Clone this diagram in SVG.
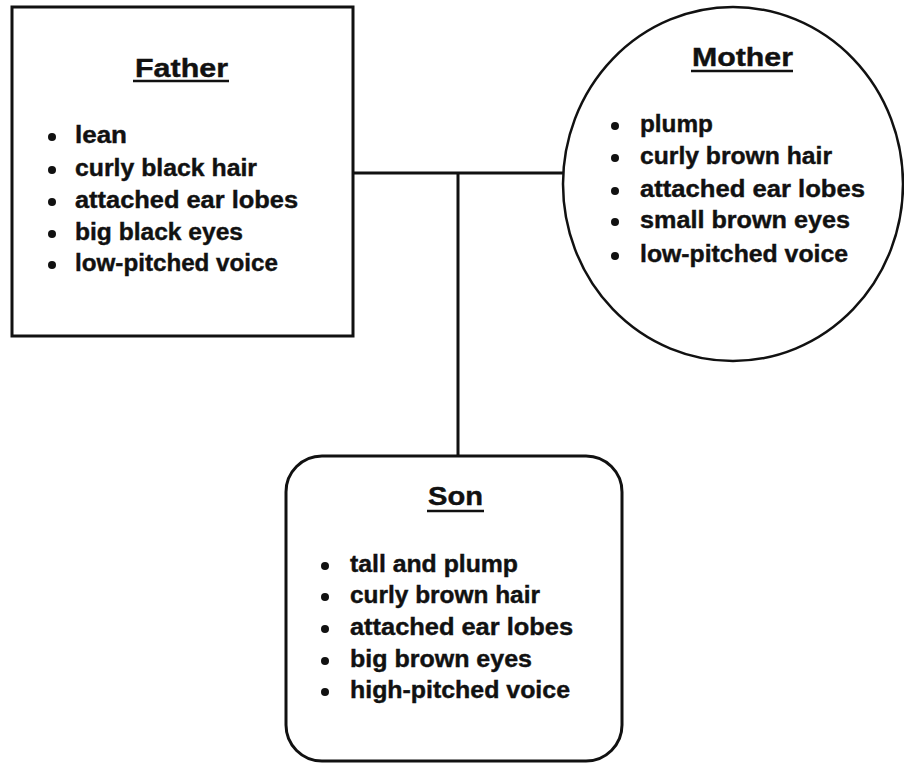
<svg xmlns="http://www.w3.org/2000/svg" width="904" height="763" viewBox="0 0 904 763">
<style>
.shape{fill:#fff;stroke:#111;stroke-width:3}
.conn{stroke:#111;stroke-width:3;fill:none}
.title{font-family:"Liberation Sans",Arial,sans-serif;font-weight:bold;font-size:25px;fill:#111;stroke:#111;stroke-width:0.4}
.item{font-family:"Liberation Sans",Arial,sans-serif;font-weight:bold;font-size:23px;fill:#111;stroke:#111;stroke-width:0.4}
.ul{stroke:#111;stroke-width:2.5}
.dot{fill:#111}
</style>
<rect width="904" height="763" fill="#fff"/>
<g id="connectors">
<line class="conn" x1="353" y1="173" x2="564" y2="173"/>
<line class="conn" x1="458" y1="173" x2="458" y2="456"/>
</g>
<g id="father">
<rect class="shape" x="12" y="7" width="341" height="329"/>
<text class="title" x="135" y="77" textLength="93" lengthAdjust="spacingAndGlyphs">Father</text>
<line class="ul" x1="133" y1="81" x2="229" y2="81"/>
<circle class="dot" cx="52" cy="137" r="4"/>
<circle class="dot" cx="52" cy="170" r="4"/>
<circle class="dot" cx="52" cy="202" r="4"/>
<circle class="dot" cx="52" cy="234" r="4"/>
<circle class="dot" cx="52" cy="265" r="4"/>
<text class="item" x="75" y="143" textLength="52" lengthAdjust="spacingAndGlyphs">lean</text>
<text class="item" x="75" y="176" textLength="182" lengthAdjust="spacingAndGlyphs">curly black hair</text>
<text class="item" x="75" y="208" textLength="223" lengthAdjust="spacingAndGlyphs">attached ear lobes</text>
<text class="item" x="75" y="240" textLength="168" lengthAdjust="spacingAndGlyphs">big black eyes</text>
<text class="item" x="75" y="271" textLength="203" lengthAdjust="spacingAndGlyphs">low-pitched voice</text>
</g>
<g id="mother">
<ellipse class="shape" cx="733" cy="184" rx="170" ry="177" style="stroke-width:2.5"/>
<text class="title" x="692" y="66" textLength="101" lengthAdjust="spacingAndGlyphs">Mother</text>
<line class="ul" x1="691" y1="71" x2="793" y2="71"/>
<circle class="dot" cx="615" cy="126" r="4"/>
<circle class="dot" cx="615" cy="158" r="4"/>
<circle class="dot" cx="615" cy="191" r="4"/>
<circle class="dot" cx="615" cy="222" r="4"/>
<circle class="dot" cx="615" cy="256" r="4"/>
<text class="item" x="640" y="132" textLength="73" lengthAdjust="spacingAndGlyphs">plump</text>
<text class="item" x="640" y="164" textLength="192" lengthAdjust="spacingAndGlyphs">curly brown hair</text>
<text class="item" x="640" y="197" textLength="225" lengthAdjust="spacingAndGlyphs">attached ear lobes</text>
<text class="item" x="640" y="228" textLength="210" lengthAdjust="spacingAndGlyphs">small brown eyes</text>
<text class="item" x="640" y="262" textLength="208" lengthAdjust="spacingAndGlyphs">low-pitched voice</text>
</g>
<g id="son">
<rect class="shape" x="286" y="456" width="336" height="305" rx="36" ry="36"/>
<text class="title" x="428" y="505" textLength="55" lengthAdjust="spacingAndGlyphs">Son</text>
<line class="ul" x1="427" y1="511" x2="484" y2="511"/>
<circle class="dot" cx="325" cy="566" r="4"/>
<circle class="dot" cx="325" cy="597" r="4"/>
<circle class="dot" cx="325" cy="629" r="4"/>
<circle class="dot" cx="325" cy="661" r="4"/>
<circle class="dot" cx="325" cy="692" r="4"/>
<text class="item" x="350" y="572" textLength="168" lengthAdjust="spacingAndGlyphs">tall and plump</text>
<text class="item" x="350" y="603" textLength="190" lengthAdjust="spacingAndGlyphs">curly brown hair</text>
<text class="item" x="350" y="635" textLength="223" lengthAdjust="spacingAndGlyphs">attached ear lobes</text>
<text class="item" x="350" y="667" textLength="182" lengthAdjust="spacingAndGlyphs">big brown eyes</text>
<text class="item" x="350" y="698" textLength="220" lengthAdjust="spacingAndGlyphs">high-pitched voice</text>
</g>
</svg>
